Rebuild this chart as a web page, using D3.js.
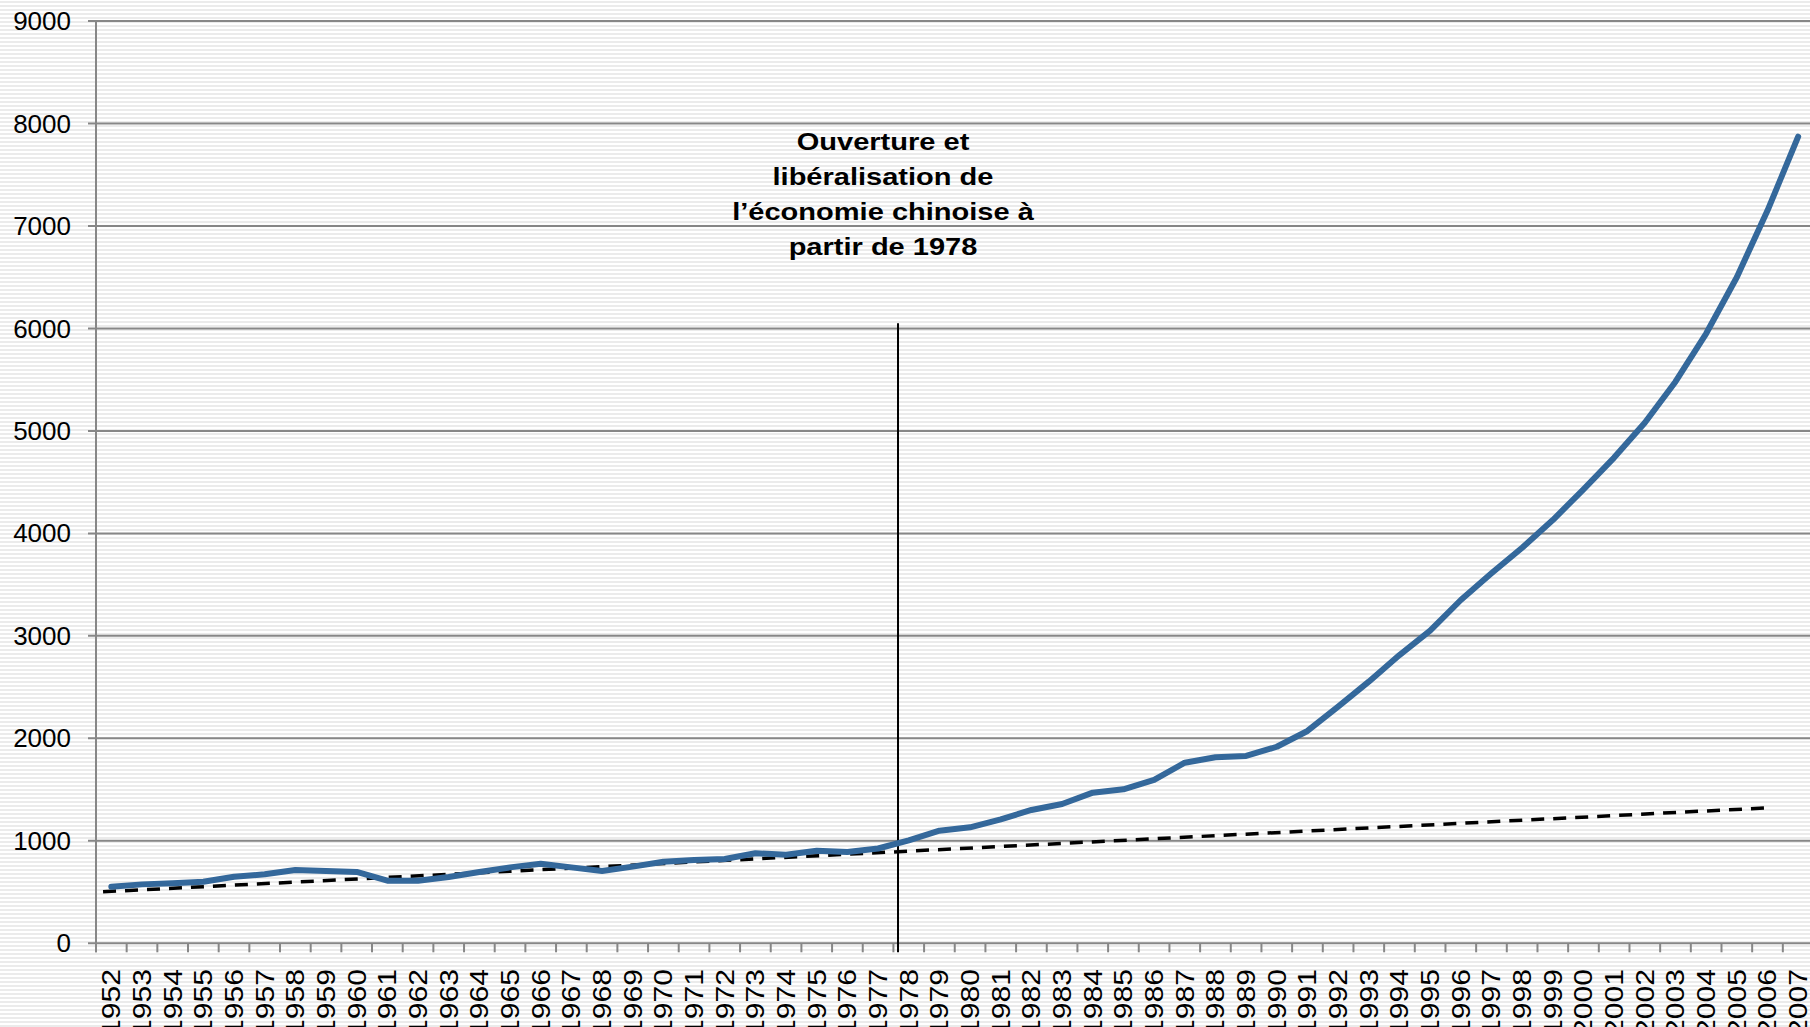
<!DOCTYPE html>
<html>
<head>
<meta charset="utf-8">
<script src="https://cdn.jsdelivr.net/npm/d3@7"></script>
<style>
	html, body { margin: 0; padding: 0; background: #fff; overflow: hidden; }
	svg { display: block; font-family: "Liberation Sans", Arial, sans-serif; }
</style>
</head>
<body>
<svg id="chart"></svg>
<script>
const years = d3.range(1952, 2008).map(String);

const gdpPerCap = [
	552, 575, 585, 601, 650, 673, 715, 705, 696, 611,
	611, 647, 695, 741, 776, 741, 705, 748, 796, 813,
	823, 878, 865, 904, 891, 925, 1005, 1099, 1132, 1210,
	1301, 1359, 1470, 1503, 1594, 1762, 1815, 1828, 1918, 2072,
	2309, 2553, 2813, 3051, 3350, 3610, 3860, 4130, 4430, 4740,
	5080, 5480, 5950, 6500, 7150, 7871
];

// hand-drawn trend line: [fractional year, value]
const trendYears = [1951.73, 2006.15];
const trendValues = [503, 1324];

const yTicks = [0, 1000, 2000, 3000, 4000, 5000, 6000, 7000, 8000, 9000];

const markerYear = 1977.65;
const markerTop = 6050;
const noteLines = [
	"Ouverture et",
	"libéralisation de",
	"l’économie chinoise à",
	"partir de 1978"
];

const W = 1810, H = 1027;
const plotLeft = 96, plotTop = 21, plotBottom = 943.3, plotRight = 1813.5;

const svg = d3.select("#chart")
	.attr("width", W)
	.attr("height", H);

// striped background
const pat = svg.append("defs")
	.append("pattern")
	.attr("id", "stripes")
	.attr("patternUnits", "userSpaceOnUse")
	.attr("width", 8)
	.attr("height", 4);
pat.append("rect").attr("width", 8).attr("height", 4).attr("fill", "#fff");
pat.append("rect").attr("y", 1).attr("width", 8).attr("height", 2).attr("fill", "#ebebeb");

svg.append("rect")
	.attr("width", W)
	.attr("height", H)
	.attr("fill", "url(#stripes)");

const x = d3.scaleBand()
	.domain(years)
	.range([plotLeft, plotRight])
	.padding(0);

const xPos = d3.scaleLinear()
	.domain([1951.5, 2007.5])
	.range([plotLeft, plotRight]);

const y = d3.scaleLinear()
	.domain([0, 9000])
	.range([plotBottom, plotTop]);

const axisColor = "#878787";

// gridlines
svg.append("g")
	.selectAll("line")
	.data(yTicks)
	.enter()
	.append("line")
	.attr("x1", plotLeft - 8)
	.attr("x2", W)
	.attr("y1", d => y(d))
	.attr("y2", d => y(d))
	.attr("stroke", axisColor)
	.attr("stroke-width", 2);

// y axis line
svg.append("line")
	.attr("x1", plotLeft)
	.attr("x2", plotLeft)
	.attr("y1", y(9000))
	.attr("y2", plotBottom + 9)
	.attr("stroke", axisColor)
	.attr("stroke-width", 2);

// x ticks
svg.append("g")
	.selectAll("line")
	.data(years)
	.enter()
	.append("line")
	.attr("x1", d => x(d))
	.attr("x2", d => x(d))
	.attr("y1", plotBottom)
	.attr("y2", plotBottom + 9)
	.attr("stroke", axisColor)
	.attr("stroke-width", 2);

// y labels
svg.append("g")
	.selectAll("text")
	.data(yTicks)
	.enter()
	.append("text")
	.attr("x", 71)
	.attr("y", d => y(d))
	.attr("dy", "0.35em")
	.attr("text-anchor", "end")
	.attr("font-size", 26)
	.attr("fill", "#000")
	.text(d => d);

// x labels, rotated (slightly stretched along their length like the original)
svg.append("g")
	.selectAll("text")
	.data(years)
	.enter()
	.append("text")
	.attr("transform", d => `translate(${x(d) + x.bandwidth() / 2}, 969) rotate(-90) scale(1.18, 1)`)
	.attr("dy", "0.35em")
	.attr("text-anchor", "end")
	.attr("font-size", 25.5)
	.attr("fill", "#000")
	.text(d => d);

// trend line
const trend = trendYears.map((t, i) => [xPos(t), y(trendValues[i])]);
svg.append("path")
	.attr("d", d3.line()(trend))
	.attr("fill", "none")
	.attr("stroke", "#000")
	.attr("stroke-width", 3.5)
	.attr("stroke-dasharray", "13 9");

// marker line at 1978
svg.append("line")
	.attr("x1", xPos(markerYear))
	.attr("x2", xPos(markerYear))
	.attr("y1", y(markerTop))
	.attr("y2", plotBottom + 9)
	.attr("stroke", "#000")
	.attr("stroke-width", 2);

// main series
const line = d3.line()
	.x((d, i) => x(years[i]) + x.bandwidth() / 2)
	.y(d => y(d));

svg.append("path")
	.datum(gdpPerCap)
	.attr("d", line)
	.attr("fill", "none")
	.attr("stroke", "#34689b")
	.attr("stroke-width", 6)
	.attr("stroke-linejoin", "round")
	.attr("stroke-linecap", "round");

// annotation, horizontally stretched like the original
svg.append("g")
	.attr("transform", `translate(${xPos(markerYear) - 15}, 0) scale(1.21, 1)`)
	.append("text")
	.attr("x", 0)
	.attr("y", 150)
	.attr("text-anchor", "middle")
	.attr("font-size", 24)
	.attr("font-weight", "bold")
	.attr("fill", "#000")
	.selectAll("tspan")
	.data(noteLines)
	.enter()
	.append("tspan")
	.attr("x", 0)
	.attr("dy", (d, i) => (i === 0 ? 0 : 35))
	.text(d => d);
</script>
</body>
</html>
